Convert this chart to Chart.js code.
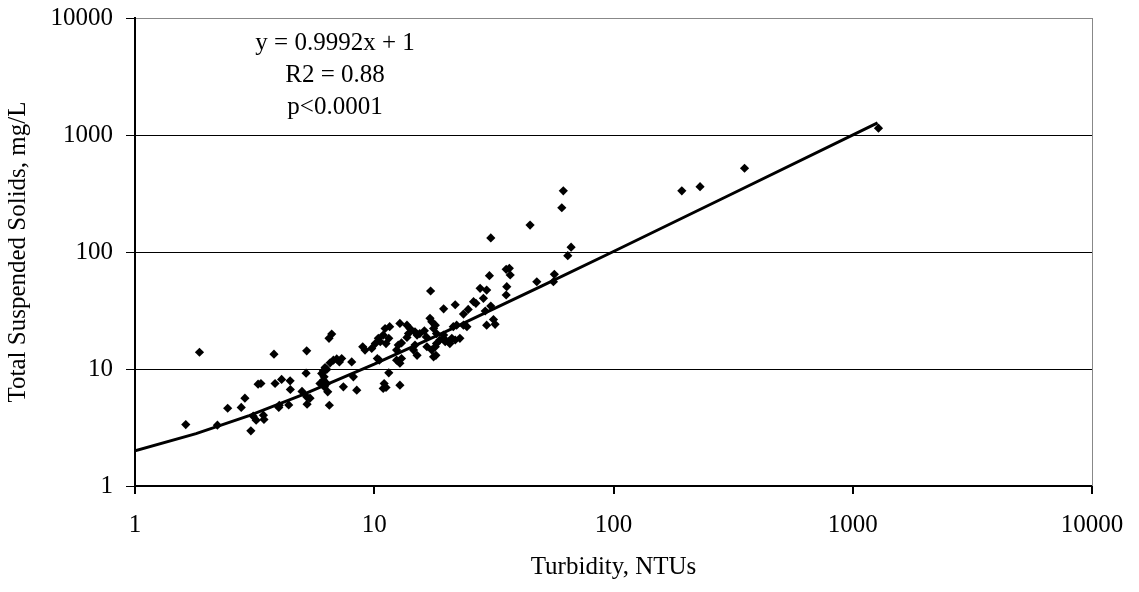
<!DOCTYPE html>
<html>
<head>
<meta charset="utf-8">
<script src="https://cdn.jsdelivr.net/npm/chart.js@4/dist/chart.umd.min.js"></script>
<style>
  html, body { margin: 0; padding: 0; background: #fff; }
  #wrap { width: 1139px; height: 592px; position: relative; }
</style>
</head>
<body>
<div id="wrap"><canvas id="tssChart"></canvas></div>
<script>
// Turbidity (NTU) vs TSS (mg/L)
const turbidity = [
  1.86, 1.63, 2.21, 2.44, 2.78, 2.88, 3.05, 3.27, 3.36, 3.12,
  3.21, 3.44, 3.46, 3.81, 3.85, 4.10, 4.45, 4.46, 3.99, 4.01,
  4.39, 5.22, 5.19, 4.99, 5.22, 5.39, 5.24, 6.03, 6.13, 6.33,
  5.93, 6.19, 6.39, 6.49, 6.47, 17.2, 19.5, 21.8, 6.64, 6.23,
  6.54, 6.75, 6.97, 7.31, 7.15, 6.13, 6.33, 6.17, 7.43, 8.45,
  8.18, 8.05, 8.95, 9.15, 9.76, 10.1, 10.4, 10.9, 11.1, 11.6,
  10.6, 11.2, 11.5, 10.5, 10.3, 11.5, 11.0, 10.9, 11.2, 12.8,
  12.4, 12.8, 13.0, 12.4, 12.6, 13.0, 12.8, 13.7, 14.1, 13.9,
  13.7, 14.8, 15.1, 14.6, 15.1, 14.8, 15.5, 16.2, 16.5, 17.1,
  17.4, 18.0, 17.7, 18.2, 16.6, 17.4, 18.0, 18.2, 17.7, 18.1,
  19.5, 20.4, 21.1, 21.8, 20.7, 21.4, 22.1, 30.7, 66.5, 64.4,
  30.3, 35.6, 36.7, 37.0, 35.8, 35.6, 47.8, 56.6, 56.1, 27.7,
  29.5, 28.6, 26.0, 26.6, 24.7, 23.6, 29.1, 30.7, 24.4, 23.6,
  29.5, 31.5, 32.0, 19.5, 19.8, 18.8, 22.8, 61.7, 60.8, 44.8,
  193, 230, 353, 1281
];
const tss = [
  13.9, 3.35, 3.31, 4.62, 4.69, 5.63, 2.96, 7.42, 7.52, 3.95,
  3.65, 4.03, 3.70, 13.4, 7.52, 8.14, 7.92, 6.68, 4.69, 4.90,
  4.93, 14.3, 9.21, 6.43, 5.78, 5.63, 5.00, 9.16, 9.64, 9.91,
  7.52, 7.04, 6.38, 4.90, 18.3, 46.4, 32.7, 35.4, 19.9, 10.3,
  11.3, 11.9, 12.2, 12.3, 11.5, 8.03, 7.52, 8.57, 7.04, 6.59,
  8.57, 11.5, 15.5, 14.5, 15.0, 16.5, 18.3, 19.5, 22.2, 23.0,
  17.1, 16.5, 18.3, 11.9, 12.3, 9.27, 7.52, 6.82, 6.95, 7.27,
  11.9, 11.2, 12.3, 14.5, 16.0, 16.7, 24.5, 23.7, 22.2, 20.1,
  18.6, 20.8, 19.5, 14.5, 13.1, 16.0, 20.1, 21.2, 18.8, 27.1,
  25.3, 23.7, 22.2, 20.1, 15.5, 14.5, 15.5, 16.5, 12.7, 13.1,
  18.3, 17.1, 18.3, 17.7, 16.5, 23.0, 23.7, 132, 110, 93,
  62.7, 71.1, 72.5, 63.6, 50.5, 42.9, 55.7, 64.4, 55.7, 48.9,
  47.3, 40.2, 37.6, 36.4, 32.3, 29.5, 31.3, 34.5, 23.0, 23.7,
  23.7, 26.5, 24.1, 19.5, 17.1, 17.7, 18.3, 333, 239, 170,
  333, 362, 520, 1144
];

// fitted line as drawn (y = 0.9992x + 1 on log axes)
const trendX = [1, 1.8, 3, 5, 10, 20, 50, 100, 300, 1270];
const trendY = [2, 2.8, 4, 6, 11, 21, 51, 101, 301, 1270];

const xTickValues = [1, 10, 100, 1000, 10000];
const xTickLabels = ['1', '10', '100', '1000', '10000'];
const yTickValues = [1, 10, 100, 1000, 10000];
const yTickLabels = ['1', '10', '100', '1000', '10000'];

const annotationLines = ['y = 0.9992x + 1', 'R2 = 0.88', 'p<0.0001'];
const xTitle = 'Turbidity, NTUs';
const yTitle = 'Total Suspended Solids, mg/L';

const serif = "'Liberation Serif', 'Times New Roman', serif";
Chart.defaults.font.family = serif;
Chart.defaults.font.size = 25;
Chart.defaults.color = '#000';

// text box with the regression stats + grey right edge of plot area
const plotExtras = {
    id: 'plotExtras',
    afterDraw(chart) {
        const { ctx, chartArea } = chart;
        ctx.save();
        ctx.strokeStyle = '#888';
        ctx.lineWidth = 1;
        ctx.beginPath();
        ctx.moveTo(chartArea.right + 0.5, chartArea.top);
        ctx.lineTo(chartArea.right + 0.5, chartArea.bottom);
        ctx.stroke();

        ctx.fillStyle = '#000';
        ctx.font = '25px ' + serif;
        ctx.textAlign = 'center';
        ctx.textBaseline = 'middle';
        const cx = chartArea.left + 200;
        annotationLines.forEach((line, i) => {
            ctx.fillText(line, cx, chartArea.top + 25 + i * 32);
        });
        ctx.restore();
    }
};

const pairs = turbidity.map((t, i) => ({ x: t, y: tss[i] }));
const trendPairs = trendX.map((t, i) => ({ x: t, y: trendY[i] }));

new Chart(document.getElementById('tssChart'), {
    type: 'scatter',
    data: {
        datasets: [
            {
                label: 'TSS',
                data: pairs,
                pointStyle: 'rectRot',
                pointRadius: 4.6,
                pointBorderWidth: 0,
                backgroundColor: '#000',
                borderColor: '#000',
                order: 1
            },
            {
                label: 'Trend',
                type: 'line',
                data: trendPairs,
                borderColor: '#000',
                borderWidth: 3,
                pointRadius: 0,
                tension: 0,
                fill: false,
                order: 2
            }
        ]
    },
    options: {
        responsive: true,
        maintainAspectRatio: false,
        animation: false,
        layout: { padding: { left: 0, right: 47, top: 18, bottom: 0 } },
        plugins: {
            legend: { display: false },
            tooltip: { enabled: false }
        },
        scales: {
            x: {
                type: 'logarithmic',
                min: 1,
                max: 10000,
                afterBuildTicks: scale => { scale.ticks = xTickValues.map(v => ({ value: v })); },
                afterFit: scale => {
                    scale.height = 106;
                    scale.paddingLeft = 0;
                    scale.paddingRight = 0;
                },
                ticks: {
                    padding: 16,
                    maxRotation: 0,
                    autoSkip: false,
                    callback: (v, i) => xTickLabels[i]
                },
                grid: {
                    drawOnChartArea: false,
                    drawTicks: true,
                    tickLength: 8,
                    color: '#000',
                    lineWidth: 2
                },
                border: { color: '#000', width: 2 },
                title: {
                    display: true,
                    text: xTitle,
                    padding: { top: 0, bottom: 10 }
                }
            },
            y: {
                type: 'logarithmic',
                min: 1,
                max: 10000,
                afterBuildTicks: scale => { scale.ticks = yTickValues.map(v => ({ value: v })); },
                afterFit: scale => {
                    scale.width = 135;
                    scale.paddingTop = 0;
                    scale.paddingBottom = 0;
                },
                ticks: {
                    padding: 13,
                    autoSkip: false,
                    callback: (v, i) => yTickLabels[i]
                },
                grid: {
                    color: ctx => (ctx.tick && ctx.tick.value === 10000 ? '#888' : '#000'),
                    tickColor: '#000',
                    lineWidth: 1,
                    tickLength: 9
                },
                border: { color: '#000', width: 2 },
                title: {
                    display: true,
                    text: yTitle,
                    padding: { top: 3, bottom: 0 }
                }
            }
        }
    },
    plugins: [plotExtras]
});
</script>
</body>
</html>
